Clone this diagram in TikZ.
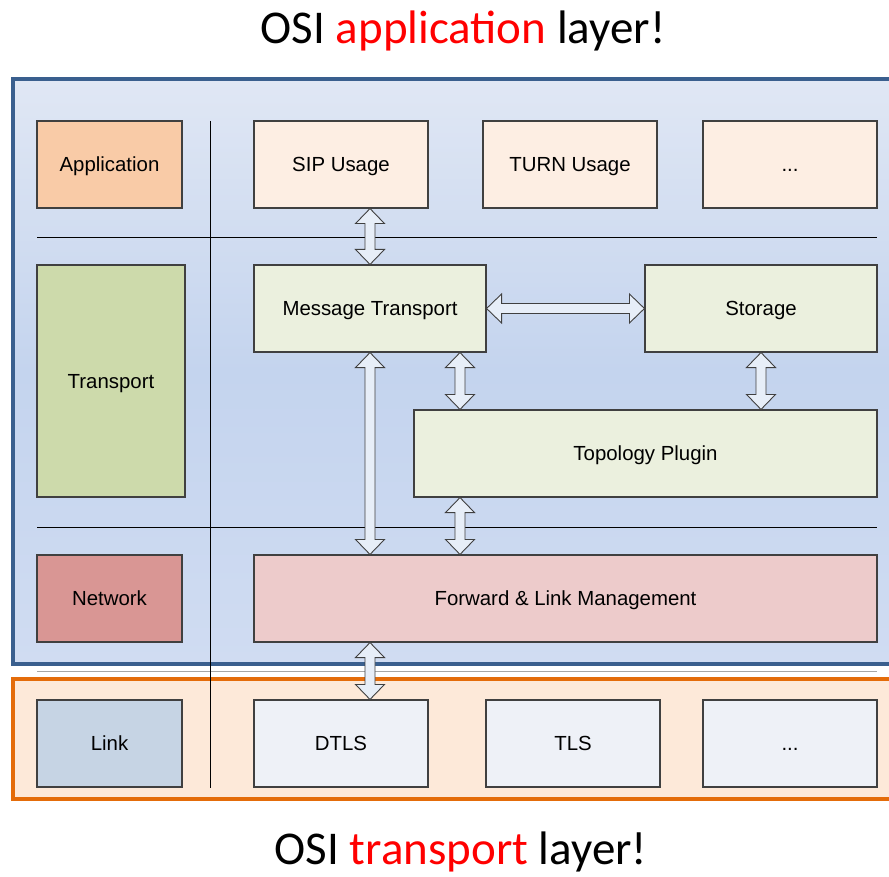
\documentclass[tikz,border=0pt]{standalone}
\usepackage{fontspec}
\setmainfont{Liberation Sans}
\newfontfamily\titlefont{Carlito}
\usetikzlibrary{calc}
\definecolor{bluebd}{HTML}{3A5F8E}
\definecolor{orangebd}{HTML}{E46C0A}
\definecolor{orangefill}{HTML}{FDE9D9}
\definecolor{appc}{HTML}{F9CBA7}
\definecolor{usagec}{HTML}{FDEEE3}
\definecolor{transc}{HTML}{CDDAAB}
\definecolor{greenc}{HTML}{EBF0DE}
\definecolor{netc}{HTML}{D99694}
\definecolor{fwdc}{HTML}{EDCBCB}
\definecolor{linkc}{HTML}{C6D4E4}
\definecolor{tlsc}{HTML}{EEF1F7}
\definecolor{arrowc}{HTML}{E7EEF8}
\definecolor{boxbd}{HTML}{404040}
\tikzset{
  box/.style={draw=boxbd, line width=1.1pt, inner sep=0pt, text height=14.6pt, text depth=0pt,
    font=\fontsize{20.4}{23}\selectfont},
  sepline/.style={draw=black, line width=0.9pt},
  barrow/.style={draw=boxbd, line width=0.9pt, fill=arrowc, line join=miter},
  titlestyle/.style={font=\titlefont\fontsize{47}{54}\selectfont, inner sep=0pt, anchor=base},
}
% vertical double block arrow from top point #1 to bottom point #2
\newcommand\varrow[2]{%
  \draw[barrow] let \p1=(#1), \p2=(#2) in
   (\x1,\y1) -- (\x1+14.5pt,\y1-15pt) -- (\x1+5pt,\y1-15pt) -- (\x1+5pt,\y2+15pt)
   -- (\x1+14.5pt,\y2+15pt) -- (\x1,\y2) -- (\x1-14.5pt,\y2+15pt) -- (\x1-5pt,\y2+15pt)
   -- (\x1-5pt,\y1-15pt) -- (\x1-14.5pt,\y1-15pt) -- cycle;}
% horizontal double block arrow from left point #1 to right point #2
\newcommand\harrow[2]{%
  \draw[barrow] let \p1=(#1), \p2=(#2) in
   (\x1,\y1) -- (\x1+15pt,\y1+14.5pt) -- (\x1+15pt,\y1+5pt) -- (\x2-15pt,\y1+5pt)
   -- (\x2-15pt,\y1+14.5pt) -- (\x2,\y1) -- (\x2-15pt,\y1-14.5pt) -- (\x2-15pt,\y1-5pt)
   -- (\x1+15pt,\y1-5pt) -- (\x1+15pt,\y1-14.5pt) -- cycle;}
\begin{document}
\begin{tikzpicture}[x=1pt,y=-1pt]
\useasboundingbox (0,0) rectangle (889,877);
\clip (0,0) rectangle (889,877);
\fill[white] (0,0) rectangle (889,877);
% outer containers
\shade[top color={rgb,255:red,224;green,231;blue,244}, bottom color={rgb,255:red,208;green,220;blue,242}, middle color={rgb,255:red,196;green,212;blue,238}] (13,79) rectangle (900,664);
\draw[bluebd, line width=4.5pt] (13,79) rectangle (900,664);
\fill[orangefill] (13,679) rectangle (900,799);
\draw[orangebd, line width=4.5pt] (13,679) rectangle (900,799);
\draw[gray!70, line width=1.8pt] (37,671.5) -- (877,671.5);
% separator lines
\draw[sepline] (37,237) -- (877,237);
\draw[sepline] (37,527) -- (877,527);
\draw[sepline] (210,121) -- (210,788);
% boxes
\node[box, fill=appc, minimum width=145pt, minimum height=87pt] (app) at (109.5,164.5) {Application};
\node[box, fill=usagec, minimum width=174pt, minimum height=87pt] (sip) at (341,164.5) {SIP Usage};
\node[box, fill=usagec, minimum width=174pt, minimum height=87pt] (turn) at (570,164.5) {TURN Usage};
\node[box, fill=usagec, minimum width=174pt, minimum height=87pt] (dots1) at (790,164.5) {...};
\node[box, fill=transc, minimum width=148pt, minimum height=232pt] (transp) at (111,381) {Transport};
\node[box, fill=greenc, minimum width=232pt, minimum height=87pt] (mt) at (370,308.5) {Message Transport};
\node[box, fill=greenc, minimum width=232pt, minimum height=87pt] (stor) at (761,308.5) {Storage};
\node[box, fill=greenc, minimum width=463pt, minimum height=87pt] (topo) at (645.5,453.5) {Topology Plugin};
\node[box, fill=netc, minimum width=145pt, minimum height=87pt] (net) at (109.5,598.5) {Network};
\node[box, fill=fwdc, minimum width=623pt, minimum height=87pt] (fwd) at (565.5,598.5) {Forward \& Link Management};
\node[box, fill=linkc, minimum width=145pt, minimum height=87pt] (link) at (109.5,743.5) {Link};
\node[box, fill=tlsc, minimum width=174pt, minimum height=87pt] (dtls) at (341,743.5) {DTLS};
\node[box, fill=tlsc, minimum width=174pt, minimum height=87pt] (tls) at (573,743.5) {TLS};
\node[box, fill=tlsc, minimum width=174pt, minimum height=87pt] (dots2) at (790,743.5) {...};
% arrows
\coordinate (ax) at (460,0);
\varrow{mt.north |- sip.south}{mt.north}
\harrow{mt.east}{stor.west}
\varrow{mt.south}{mt.south |- fwd.north}
\varrow{ax |- mt.south}{ax |- topo.north}
\varrow{stor.south}{stor.south |- topo.north}
\varrow{ax |- topo.south}{ax |- fwd.north}
\varrow{mt.south |- fwd.south}{mt.south |- dtls.north}
% titles
\node[titlestyle] (t1) at (463,44) {OSI \textcolor{red}{application} layer!};
\node[titlestyle] (t2) at (461,864) {OSI \textcolor{red}{transport} layer!};
\end{tikzpicture}
\end{document}
